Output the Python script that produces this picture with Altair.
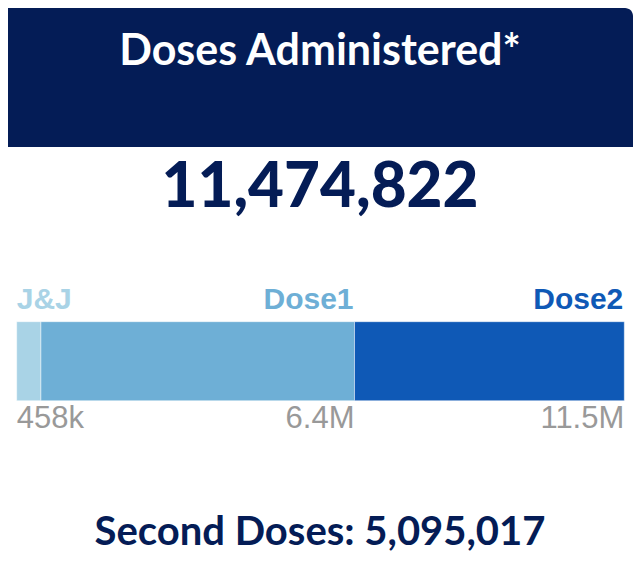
import altair as alt
import pandas as pd

# ---- data ----
segment_names = ["J&J", "Dose1", "Dose2"]
segment_starts = [0, 458000, 6379805]
segment_ends = [458000, 6379805, 11474822]
segment_colors = ["#a9d3e6", "#6eafd6", "#0f59b6"]
tick_labels = ["458k", "6.4M", "11.5M"]
tick_positions = [0, 6379805, 11474822]
label_align = ["left", "right", "right"]

total_doses = 11474822
second_doses = 5095017

title_text = "Doses Administered*"
total_text = f"{total_doses:,}"
second_text = f"Second Doses: {second_doses:,}"

W, H = 625, 568

seg_df = pd.DataFrame({
    "name": segment_names,
    "start": segment_starts,
    "end": segment_ends,
    "tick": tick_labels,
    "tickpos": tick_positions,
    "align": label_align,
})

xscale = alt.Scale(domain=[0, total_doses], range=[8.7, 616.3])
color_scale = alt.Scale(domain=segment_names, range=segment_colors)

base = alt.Chart(seg_df)

header = alt.Chart(pd.DataFrame({"a": [1]})).mark_rect(
    color="#041c56", cornerRadiusTopRight=8
).encode(
    x=alt.value(0), x2=alt.value(W), y=alt.value(0), y2=alt.value(139)
)

title = alt.Chart(pd.DataFrame({"t": [title_text]})).mark_text(
    font="Lato", fontWeight="bold", fontSize=43, color="white",
    align="center", baseline="alphabetic"
).encode(text="t:N", x=alt.value(312), y=alt.value(57))

total = alt.Chart(pd.DataFrame({"t": [total_text]})).mark_text(
    font="Lato", fontWeight=900, fontSize=62, color="#041c56",
    align="center", baseline="alphabetic"
).encode(text="t:N", x=alt.value(312), y=alt.value(199))

second = alt.Chart(pd.DataFrame({"t": [second_text]})).mark_text(
    font="Lato", fontWeight="bold", fontSize=40, color="#041c56",
    align="center", baseline="alphabetic"
).encode(text="t:N", x=alt.value(312), y=alt.value(537))

bars = base.mark_rect(stroke="white", strokeWidth=1, strokeOpacity=0.45).encode(
    x=alt.X("start:Q", scale=xscale, axis=None),
    x2="end:Q",
    y=alt.value(313.7),
    y2=alt.value(392.7),
    color=alt.Color("name:N", scale=color_scale, legend=None),
)

name_left = base.transform_filter(alt.datum.align == "left").mark_text(
    font="Liberation Sans", fontWeight="bold", fontSize=30,
    align="left", baseline="alphabetic"
).encode(
    x=alt.X("start:Q", scale=xscale, axis=None),
    y=alt.value(301.3),
    text="name:N",
    color=alt.Color("name:N", scale=color_scale, legend=None),
)

name_right = base.transform_filter(alt.datum.align == "right").mark_text(
    font="Liberation Sans", fontWeight="bold", fontSize=30,
    align="right", baseline="alphabetic", dx=-1
).encode(
    x=alt.X("end:Q", scale=xscale, axis=None),
    y=alt.value(301.3),
    text="name:N",
    color=alt.Color("name:N", scale=color_scale, legend=None),
)

tick_left = base.transform_filter(alt.datum.align == "left").mark_text(
    font="Liberation Sans", fontSize=31, color="#999999",
    align="left", baseline="alphabetic"
).encode(
    x=alt.X("tickpos:Q", scale=xscale, axis=None),
    y=alt.value(420),
    text="tick:N",
)

tick_right = base.transform_filter(alt.datum.align == "right").mark_text(
    font="Liberation Sans", fontSize=31, color="#999999",
    align="right", baseline="alphabetic"
).encode(
    x=alt.X("tickpos:Q", scale=xscale, axis=None),
    y=alt.value(420),
    text="tick:N",
)

chart = alt.layer(
    header, title, total, bars, name_left, name_right, tick_left, tick_right, second
).properties(
    width=W, height=H, padding=0, autosize="none", background="white"
).configure_view(stroke=None)

chart.save("out.html", embed_options={"renderer": "svg", "actions": False})
